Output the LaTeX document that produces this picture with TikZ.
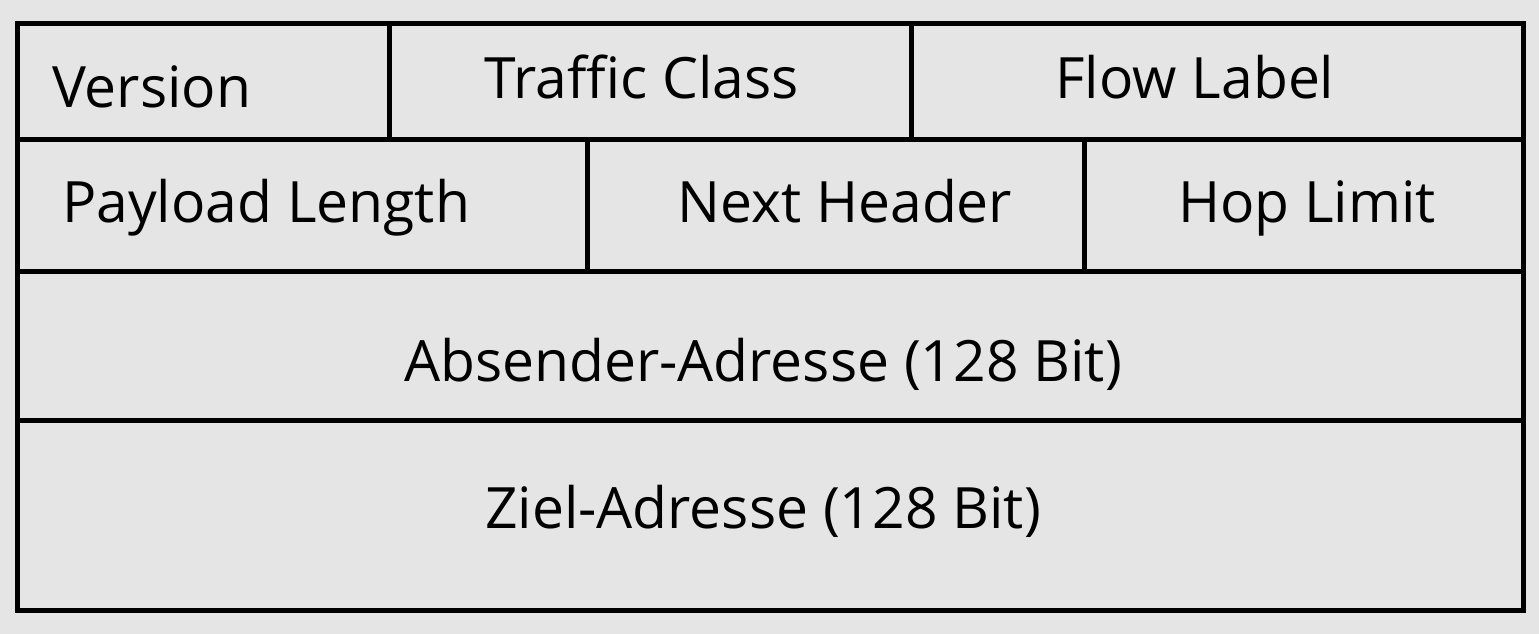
\documentclass[tikz,border=0pt]{standalone}
\usepackage{fontspec}
\setmainfont{Open Sans}
\definecolor{bg}{HTML}{E5E5E5}
\begin{document}
\begin{tikzpicture}[x=1pt,y=-1pt,
  grid/.style={line width=5pt,draw=black},
  lbl/.style={inner sep=0pt,anchor=base,font=\fontsize{57}{60}\selectfont},
  lbll/.style={lbl,anchor=base west}]
\fill[bg] (0,0) rectangle (1539,634);
\useasboundingbox (0,0) rectangle (1539,634);
% grid
\draw[grid] (17,24) rectangle (1523,610);
\draw[grid] (17,139) -- (1523,139);
\draw[grid] (17,271) -- (1523,271);
\draw[grid] (17,420) -- (1523,420);
\draw[grid] (389,24) -- (389,139);
\draw[grid] (911,24) -- (911,139);
\draw[grid] (587,139) -- (587,271);
\draw[grid] (1084,139) -- (1084,271);
% labels
\node[lbll] (version) at (52,107) {Version};
\node[lbl] (tc) at (642,98) {Traffic Class};
\node[lbl] (fl) at (1195,98) {Flow Label};
\node[lbll] (pl) at (62,222) {Payload Length};
\node[lbl] (nh) at (845,222) {Next Header};
\node[lbl] (hl) at (1307,222) {Hop Limit};
\node[lbl] (src) at (763,381) {Absender-Adresse (128 Bit)};
\node[lbl] (dst) at (763,528) {Ziel-Adresse (128 Bit)};
\end{tikzpicture}
\end{document}
